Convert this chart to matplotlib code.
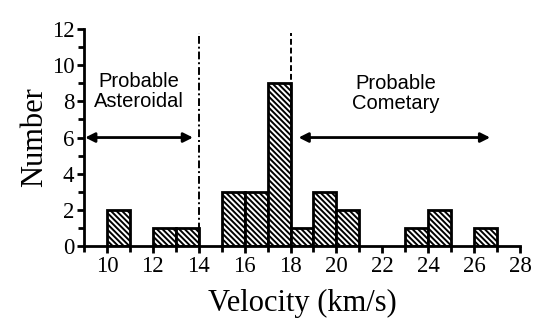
import numpy as np
import matplotlib.pyplot as plt
from matplotlib.ticker import MultipleLocator

# histogram of velocities: left bin edge and count (bin width 1 km/s)
bin_left = [10, 12, 13, 15, 16, 17, 18, 19, 20, 23, 24, 26]
counts = [2, 1, 1, 3, 3, 9, 1, 3, 2, 1, 2, 1]

asteroid_limit = 14
comet_limit = 18

plt.rcParams["hatch.linewidth"] = 1.4

fig = plt.figure(figsize=(5.35, 3.24), dpi=100)
ax = fig.add_axes([0.157, 0.241, 0.815, 0.669])

ax.bar(bin_left, counts, width=1, align="edge", facecolor="white",
       edgecolor="black", linewidth=2, hatch="\\" * 6)

ax.plot([asteroid_limit, asteroid_limit], [0, 11.8], color="black",
        linestyle=(0, (4, 1.5, 1, 1.5)), linewidth=1.4)
ax.plot([comet_limit, comet_limit], [0, 11.8], color="black",
        linestyle=(0, (3, 1.5)), linewidth=1.4)

arrow = dict(arrowstyle="<|-|>", color="black", linewidth=2,
             mutation_scale=14, shrinkA=0, shrinkB=0)
ax.annotate("", xy=(9.05, 6), xytext=(13.75, 6), arrowprops=arrow)
ax.annotate("", xy=(18.35, 6), xytext=(26.7, 6), arrowprops=arrow)

ax.text(11.4, 8.55, "Probable\nAsteroidal", ha="center", va="center",
        fontsize=14.5, family="Liberation Sans", linespacing=1.05)
ax.text(22.6, 8.45, "Probable\nCometary", ha="center", va="center",
        fontsize=14.5, family="Liberation Sans", linespacing=1.05)

ax.set_xlim(9, 28)
ax.set_ylim(0, 12)
ax.xaxis.set_major_locator(MultipleLocator(2))
ax.xaxis.set_minor_locator(MultipleLocator(1))
ax.yaxis.set_major_locator(MultipleLocator(2))
ax.yaxis.set_minor_locator(MultipleLocator(1))
ax.set_xticks(np.arange(10, 29, 2))

for s in ["top", "right"]:
    ax.spines[s].set_visible(False)
for s in ["left", "bottom"]:
    ax.spines[s].set_linewidth(2)

ax.tick_params(which="major", direction="out", length=5, width=2,
               labelsize=16.5, pad=2)
ax.tick_params(which="minor", direction="out", length=4, width=2)
for lab in ax.get_xticklabels() + ax.get_yticklabels():
    lab.set_family("Liberation Serif")

ax.set_xlabel("Velocity (km/s)", fontsize=22, family="Liberation Serif",
              labelpad=9)
ax.set_ylabel("Number", fontsize=22, family="Liberation Serif", labelpad=2)

fig.savefig("out.png", dpi=100)
